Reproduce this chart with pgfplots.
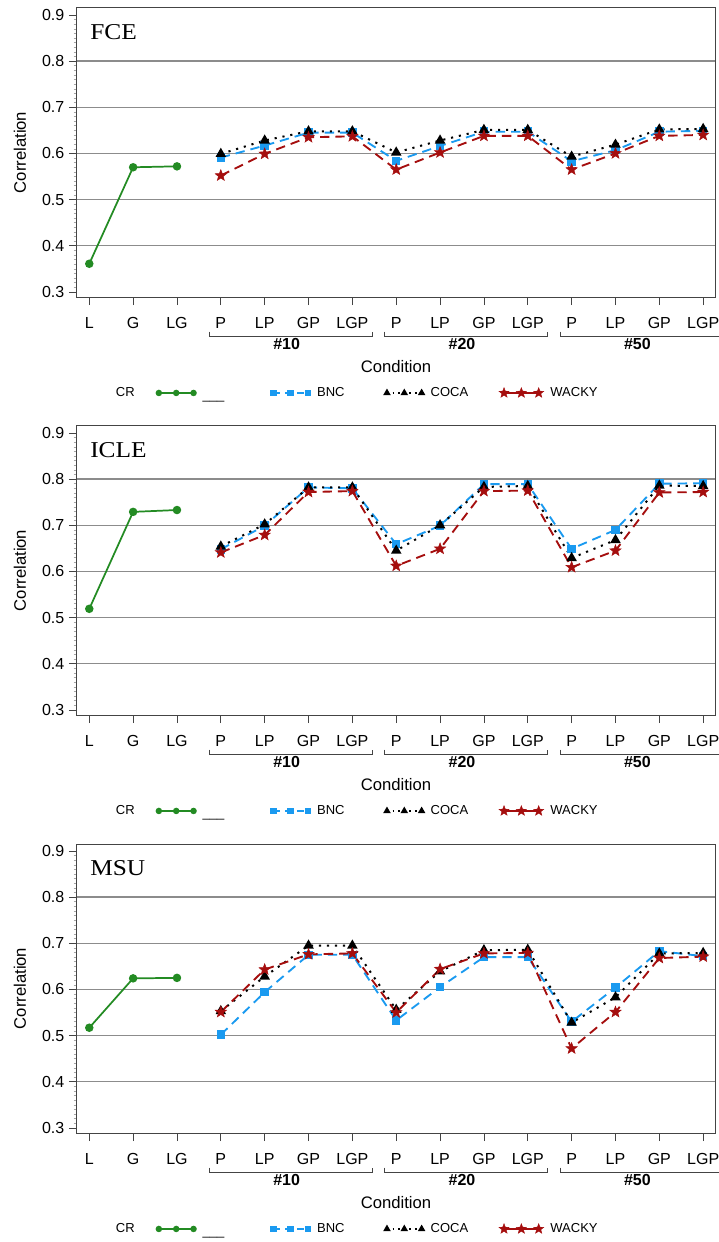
\documentclass[border=0pt]{standalone}
\usepackage{fontspec}
\setmainfont{Liberation Sans}
\newfontfamily\seriffont{Liberation Serif}
\usepackage{graphicx}
\usepackage{pgfplots}
\usepackage{pgfplotstable}
\pgfplotsset{compat=1.18}

\definecolor{crgreen}{HTML}{238B23}
\definecolor{bncblue}{HTML}{1A9AF0}
\definecolor{wackyred}{HTML}{A50E0E}
\definecolor{gridgray}{HTML}{8C8C8C}
\definecolor{axisgray}{HTML}{444444}

\pgfdeclareplotmark{fstar}{%
 \pgfpathmoveto{\pgfpointpolar{90}{\pgfplotmarksize}}%
 \pgfpathlineto{\pgfpointpolar{126}{0.42\pgfplotmarksize}}%
 \pgfpathlineto{\pgfpointpolar{162}{\pgfplotmarksize}}%
 \pgfpathlineto{\pgfpointpolar{198}{0.42\pgfplotmarksize}}%
 \pgfpathlineto{\pgfpointpolar{234}{\pgfplotmarksize}}%
 \pgfpathlineto{\pgfpointpolar{270}{0.42\pgfplotmarksize}}%
 \pgfpathlineto{\pgfpointpolar{306}{\pgfplotmarksize}}%
 \pgfpathlineto{\pgfpointpolar{342}{0.42\pgfplotmarksize}}%
 \pgfpathlineto{\pgfpointpolar{18}{\pgfplotmarksize}}%
 \pgfpathlineto{\pgfpointpolar{54}{0.42\pgfplotmarksize}}%
 \pgfpathclose\pgfusepathqfillstroke}

% ---------------- data ----------------
\pgfplotstableread{
x cr
0 0.361
1 0.570
2 0.572
}\fceCR
\pgfplotstableread{
x bnc coca wacky
3 0.591 0.599 0.552
4 0.617 0.628 0.599
5 0.645 0.648 0.635
6 0.645 0.648 0.637
7 0.584 0.602 0.565
8 0.616 0.628 0.602
9 0.647 0.651 0.638
10 0.647 0.651 0.638
11 0.583 0.593 0.565
12 0.607 0.619 0.600
13 0.647 0.652 0.638
14 0.649 0.653 0.640
}\fce
\pgfplotstableread{
x cr
0 0.519
1 0.729
2 0.733
}\icleCR
\pgfplotstableread{
x bnc coca wacky
3 0.648 0.654 0.641
4 0.699 0.702 0.679
5 0.782 0.782 0.772
6 0.780 0.782 0.774
7 0.659 0.645 0.612
8 0.699 0.700 0.649
9 0.789 0.783 0.774
10 0.789 0.785 0.775
11 0.649 0.629 0.609
12 0.690 0.668 0.645
13 0.790 0.786 0.771
14 0.791 0.785 0.772
}\icle
\pgfplotstableread{
x cr
0 0.517
1 0.624
2 0.625
}\msuCR
\pgfplotstableread{
x bnc coca wacky
3 0.502 0.553 0.551
4 0.594 0.628 0.643
5 0.675 0.695 0.676
6 0.675 0.695 0.678
7 0.533 0.556 0.550
8 0.605 0.639 0.644
9 0.670 0.685 0.678
10 0.670 0.686 0.679
11 0.530 0.528 0.472
12 0.604 0.583 0.551
13 0.683 0.678 0.668
14 0.672 0.679 0.671
}\msu

\pgfplotsset{
 panel/.style={
  scale only axis, width=478.5pt, height=216.75pt,
  xmin=-0.28, xmax=14.27, ymin=0.289, ymax=0.915,
  xtick={0,1,2,3,4,5,6,7,8,9,10,11,12,13,14},
  xticklabels={L,G,LG,P,LP,GP,LGP,P,LP,GP,LGP,P,LP,GP,LGP},
  ytick={0.3,0.4,0.5,0.6,0.7,0.8,0.9},
  yticklabel style={/pgf/number format/.cd, fixed, precision=1, fixed zerofill},
  /pgf/number format/assume math mode=true,
  minor y tick num=9,
  tick align=outside, xtick pos=bottom, ytick pos=left,
  major tick length=6pt, minor tick length=2.5pt,
  tick style={axisgray, line width=0.6pt},
  minor tick style={gray!70, line width=0.4pt},
  axis line style={axisgray, line width=0.75pt},
  extra y ticks={0.4,0.5,0.6,0.7,0.8}, extra y tick labels={},
  extra y tick style={grid=major, major tick length=0pt},
  major grid style={gridgray, line width=0.9pt},
  ticklabel style={font=\fontsize{12}{14}\selectfont},
  xticklabel style={yshift=-6pt},
  xlabel={Condition},
  xlabel style={at={(axis description cs:0.5,-0.239)}, anchor=center, font=\fontsize{12.5}{15}\selectfont},
  ylabel={Correlation},
  ylabel style={at={(axis description cs:-0.0893,0.5)}, anchor=center, font=\fontsize{12.5}{15}\selectfont},
  clip=false,
  legend style={draw=none, fill=none, at={(0.0502,-0.332)}, anchor=west,
    inner sep=0pt, nodes={inner sep=3pt},
    legend columns=-1, font=\fontsize{9.75}{11}\selectfont,
    /tikz/every odd column/.append style={column sep=2pt},
    /tikz/column 2/.append style={column sep=13.3pt},
    /tikz/column 4/.append style={column sep=32pt},
    /tikz/column 6/.append style={column sep=27pt},
    /tikz/column 8/.append style={column sep=20pt}},
  legend image code/.code={\draw[##1] plot coordinates {(0pt,0pt)(13pt,0pt)(26pt,0pt)};},
 },
 crplot/.style={crgreen, line width=1.3pt, mark=*, mark size=2.5pt, forget plot},
 bncplot/.style={bncblue, line width=1.4pt, dash pattern=on 7pt off 4.5pt, mark=square*, mark size=2.5pt, mark options={solid}, forget plot},
 cocaplot/.style={black, line width=1.5pt, dash pattern=on 1.6pt off 4.4pt, mark=triangle*, mark size=3.1pt, mark options={solid}, forget plot},
 wackyplot/.style={wackyred, line width=1.4pt, dash pattern=on 7pt off 4.5pt, mark=fstar, mark size=4.4pt, mark options={solid, line width=0.4pt}, forget plot},
}

\newcommand{\panellegend}{%
  \addlegendimage{empty legend}\addlegendentry{CR}
  \addlegendimage{crgreen, line width=1.2pt, mark=*, mark size=1.8pt}\addlegendentry{\vphantom{CR}\raisebox{-2.5pt}{\_\_\_}}
  \addlegendimage{bncblue, line width=1.2pt, dash pattern=on 5pt off 4pt, mark=square*, mark size=1.8pt, mark options={solid}}\addlegendentry{BNC}
  \addlegendimage{black, line width=1.2pt, dash pattern=on 1.2pt off 3pt, mark=triangle*, mark size=2.1pt, mark options={solid}}\addlegendentry{COCA}
  \addlegendimage{wackyred, line width=1.2pt, mark=fstar, mark size=4pt, mark options={line width=0.3pt}}\addlegendentry{WACKY}
}
\newcommand{\brackets}{%
  \draw[axisgray, line width=0.75pt] (axis cs:2.75,0.214) -- (axis cs:2.75,0.203) -- (axis cs:6.45,0.203) -- (axis cs:6.45,0.214);
  \draw[axisgray, line width=0.75pt] (axis cs:6.73,0.214) -- (axis cs:6.73,0.203) -- (axis cs:10.45,0.203) -- (axis cs:10.45,0.214);
  \draw[axisgray, line width=0.75pt] (axis cs:10.75,0.214) -- (axis cs:10.75,0.203) -- (axis cs:14.45,0.203) -- (axis cs:14.45,0.214);
  \node[font=\bfseries\fontsize{12}{14}\selectfont] at (axis cs:4.5,0.1866) {\#10};
  \node[font=\bfseries\fontsize{12}{14}\selectfont] at (axis cs:8.5,0.1866) {\#20};
  \node[font=\bfseries\fontsize{12}{14}\selectfont] at (axis cs:12.5,0.1866) {\#50};
}
\newcommand{\paneltitle}[1]{%
  \node[anchor=west, inner sep=0pt] at (rel axis cs:0.0204,0.918) {\scalebox{1.12}[1]{\seriffont\fontsize{17}{20}\selectfont #1}};
}

\begin{document}
\begin{tikzpicture}
% ---------- FCE ----------
\begin{axis}[panel, at={(0pt,0pt)}]
  \panellegend
  \addplot[crplot] table[x=x, y=cr] {\fceCR};
  \addplot[bncplot] table[x=x, y=bnc] {\fce};
  \addplot[cocaplot] table[x=x, y=coca] {\fce};
  \addplot[wackyplot] table[x=x, y=wacky] {\fce};
  \paneltitle{FCE}
  \brackets
\end{axis}
% ---------- ICLE ----------
\begin{axis}[panel, at={(0pt,-313.5pt)}]
  \panellegend
  \addplot[crplot] table[x=x, y=cr] {\icleCR};
  \addplot[bncplot] table[x=x, y=bnc] {\icle};
  \addplot[cocaplot] table[x=x, y=coca] {\icle};
  \addplot[wackyplot] table[x=x, y=wacky] {\icle};
  \paneltitle{ICLE}
  \brackets
\end{axis}
% ---------- MSU ----------
\begin{axis}[panel, at={(0pt,-627pt)}]
  \panellegend
  \addplot[crplot] table[x=x, y=cr] {\msuCR};
  \addplot[bncplot] table[x=x, y=bnc] {\msu};
  \addplot[cocaplot] table[x=x, y=coca] {\msu};
  \addplot[wackyplot] table[x=x, y=wacky] {\msu};
  \paneltitle{MSU}
  \brackets
\end{axis}
\pgfresetboundingbox
\useasboundingbox (-57.75pt,-708.75pt) rectangle (480.75pt,222.75pt);
\end{tikzpicture}
\end{document}
